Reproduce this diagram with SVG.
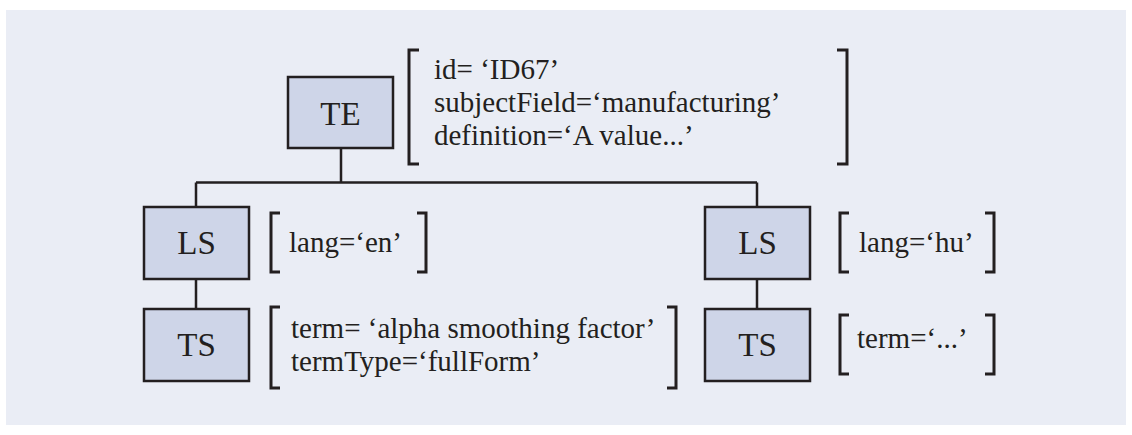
<svg xmlns="http://www.w3.org/2000/svg" width="1132" height="435" viewBox="0 0 1132 435">
  <style>
    .panel { fill: #eaedf5; }
    .box { fill: #ced5e8; stroke: #231f20; stroke-width: 2.5; }
    .label { font-family: 'Liberation Serif', 'DejaVu Serif', serif; font-size: 33px; fill: #231f20; text-anchor: middle; }
    .attr { font-family: 'Liberation Serif', 'DejaVu Serif', serif; font-size: 29px; fill: #231f20; }
    .br { fill: none; stroke: #231f20; stroke-width: 3; }
    .conn { fill: none; stroke: #231f20; stroke-width: 2.5; }
  </style>
  <rect class="panel" x="6" y="10" width="1120" height="415"/>

  <g id="connectors">
    <path class="conn" d="M341,148 V182.5 M196,182.5 H757 M196,182.5 V207 M757,182.5 V207 M196,279 V309 M757,279 V309"/>
  </g>

  <g id="TE">
    <rect class="box" x="288" y="77" width="105" height="71"/>
    <text class="label" x="340.5" y="125" font-family="Liberation Serif">TE</text>
    <path class="br" d="M419,50 H409 V164 H419"/>
    <path class="br" d="M837,50 H847 V164 H837"/>
    <text class="attr" x="434" y="79" font-family="Liberation Serif">id= ‘ID67’</text>
    <text class="attr" x="434" y="112" font-family="Liberation Serif">subjectField=‘manufacturing’</text>
    <text class="attr" x="434" y="145" font-family="Liberation Serif">definition=‘A value...’</text>
  </g>

  <g id="LS-en">
    <rect class="box" x="144" y="207" width="105" height="72"/>
    <text class="label" x="196.5" y="254">LS</text>
    <path class="br" d="M280,213 H271 V272 H280"/>
    <path class="br" d="M417,213 H426 V272 H417"/>
    <text class="attr" x="289" y="252">lang=‘en’</text>
  </g>

  <g id="TS-en">
    <rect class="box" x="144" y="309" width="105" height="72"/>
    <text class="label" x="196.5" y="356">TS</text>
    <path class="br" d="M280,307 H271 V388 H280"/>
    <path class="br" d="M667,307 H676 V388 H667"/>
    <text class="attr" x="291" y="338">term= ‘alpha smoothing factor’</text>
    <text class="attr" x="291" y="371">termType=‘fullForm’</text>
  </g>

  <g id="LS-hu">
    <rect class="box" x="705" y="207" width="105" height="72"/>
    <text class="label" x="757.5" y="254">LS</text>
    <path class="br" d="M849,213 H840 V272 H849"/>
    <path class="br" d="M985,213 H994 V272 H985"/>
    <text class="attr" x="859" y="252">lang=‘hu’</text>
  </g>

  <g id="TS-hu">
    <rect class="box" x="705" y="309" width="105" height="72"/>
    <text class="label" x="757.5" y="356">TS</text>
    <path class="br" d="M849,315 H840 V374 H849"/>
    <path class="br" d="M985,315 H994 V374 H985"/>
    <text class="attr" x="857" y="348">term=‘...’</text>
  </g>
</svg>
